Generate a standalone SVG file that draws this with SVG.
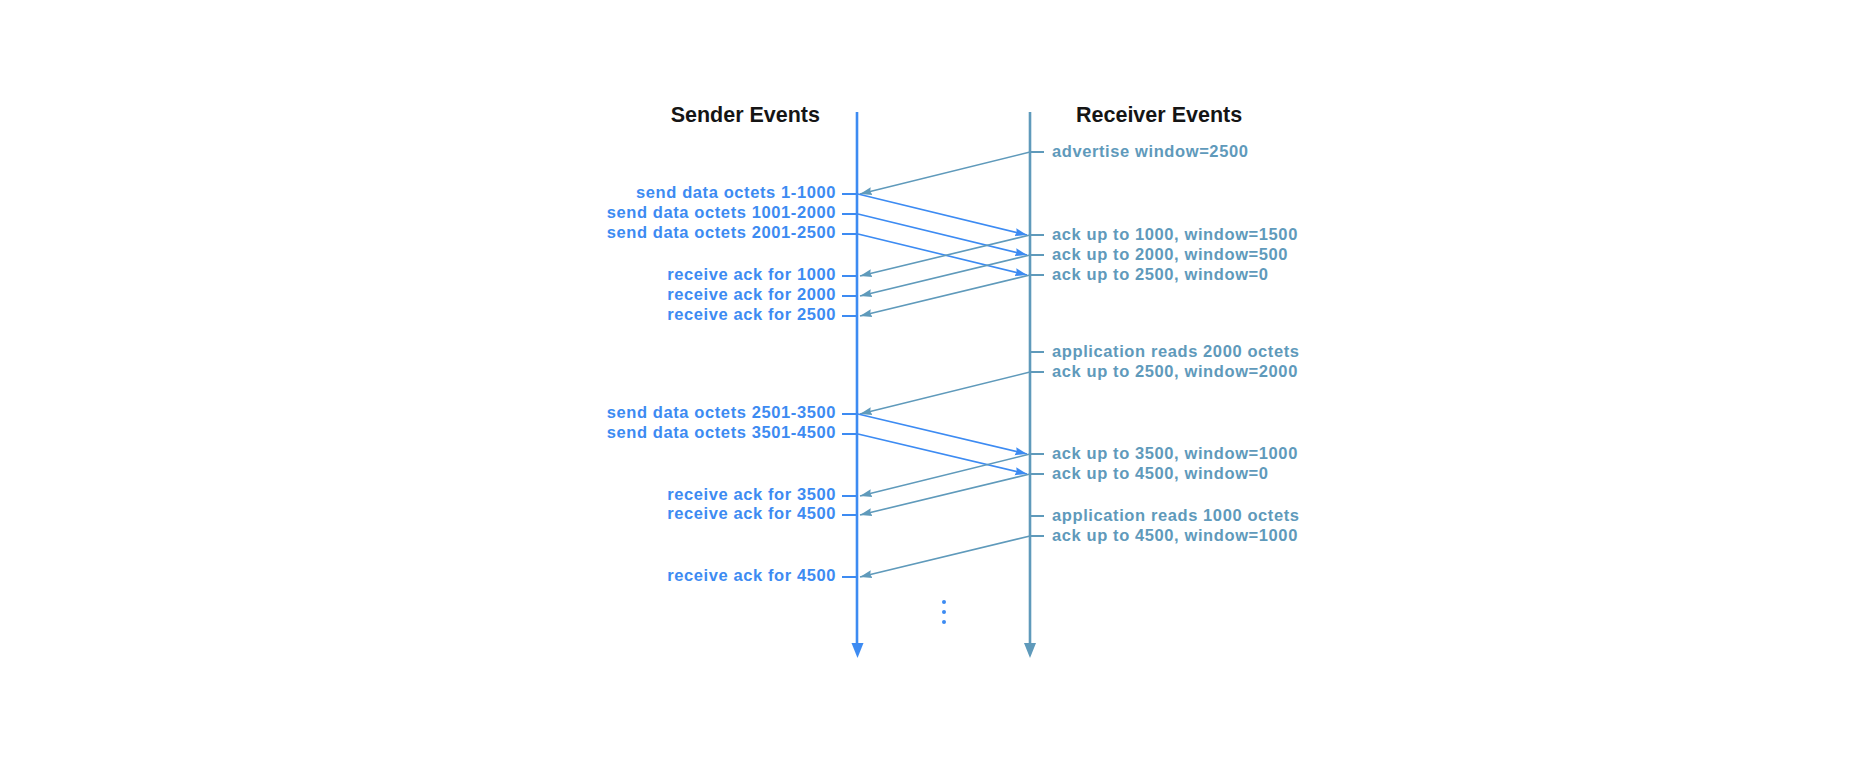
<svg xmlns="http://www.w3.org/2000/svg" width="1866" height="772" viewBox="0 0 1866 772">
<style>
.hdr{font-family:"Liberation Sans",Arial,sans-serif;font-weight:bold;font-size:21.5px;fill:#151515}
.s{font-family:"Liberation Sans",Arial,sans-serif;font-weight:bold;font-size:16.5px;letter-spacing:0.6px;fill:#3d8bf2;text-anchor:end}
.r{font-family:"Liberation Sans",Arial,sans-serif;font-weight:bold;font-size:16.5px;letter-spacing:0.6px;fill:#5f9abb}
.st{stroke:#3d8bf2;stroke-width:2}
.rt{stroke:#5f9abb;stroke-width:2}
.bl{stroke:#3d8bf2;stroke-width:1.6;fill:none;marker-end:url(#ab)}
.tl{stroke:#5f9abb;stroke-width:1.6;fill:none;marker-end:url(#at)}
</style>
<defs>
<marker id="ab" markerUnits="userSpaceOnUse" markerWidth="14" markerHeight="10" refX="12" refY="4.5" orient="auto"><path d="M0,0.5 L12,4.5 L0,8.5 L1.5,4.5 Z" fill="#3d8bf2"/></marker>
<marker id="at" markerUnits="userSpaceOnUse" markerWidth="14" markerHeight="10" refX="12" refY="4.5" orient="auto"><path d="M0,0.5 L12,4.5 L0,8.5 L1.5,4.5 Z" fill="#5f9abb"/></marker>
</defs>
<rect width="1866" height="772" fill="#ffffff"/>
<g id="sender-timeline">
<text class="hdr" x="820" y="122" text-anchor="end">Sender Events</text>
<line x1="857" y1="112" x2="857" y2="645" stroke="#3d8bf2" stroke-width="2.6"/>
<path d="M851.5,643 L863.5,643 L857.5,658 Z" fill="#3d8bf2"/>
</g>
<g id="receiver-timeline">
<text class="hdr" x="1076" y="122">Receiver Events</text>
<line x1="1030" y1="112" x2="1030" y2="645" stroke="#5f9abb" stroke-width="2.6"/>
<path d="M1024,643 L1036,643 L1030,658 Z" fill="#5f9abb"/>
</g>
<g id="sender-events">
<g id="s1"><line class="st" x1="842" y1="194" x2="858" y2="194"/><text class="s" x="836" y="198">send data octets 1-1000</text></g>
<g id="s2"><line class="st" x1="842" y1="214" x2="858" y2="214"/><text class="s" x="836" y="218">send data octets 1001-2000</text></g>
<g id="s3"><line class="st" x1="842" y1="234" x2="858" y2="234"/><text class="s" x="836" y="238">send data octets 2001-2500</text></g>
<g id="s4"><line class="st" x1="842" y1="276" x2="858" y2="276"/><text class="s" x="836" y="280">receive ack for 1000</text></g>
<g id="s5"><line class="st" x1="842" y1="296" x2="858" y2="296"/><text class="s" x="836" y="300">receive ack for 2000</text></g>
<g id="s6"><line class="st" x1="842" y1="316" x2="858" y2="316"/><text class="s" x="836" y="320">receive ack for 2500</text></g>
<g id="s7"><line class="st" x1="842" y1="414" x2="858" y2="414"/><text class="s" x="836" y="418">send data octets 2501-3500</text></g>
<g id="s8"><line class="st" x1="842" y1="434" x2="858" y2="434"/><text class="s" x="836" y="438">send data octets 3501-4500</text></g>
<g id="s9"><line class="st" x1="842" y1="496" x2="858" y2="496"/><text class="s" x="836" y="500">receive ack for 3500</text></g>
<g id="s10"><line class="st" x1="842" y1="515" x2="858" y2="515"/><text class="s" x="836" y="519">receive ack for 4500</text></g>
<g id="s11"><line class="st" x1="842" y1="577" x2="858" y2="577"/><text class="s" x="836" y="581">receive ack for 4500</text></g>
</g>
<g id="receiver-events">
<g id="r1"><line class="rt" x1="1030" y1="152" x2="1044" y2="152"/><text class="r" x="1052" y="156.5">advertise window=2500</text></g>
<g id="r2"><line class="rt" x1="1030" y1="235" x2="1044" y2="235"/><text class="r" x="1052" y="239.5">ack up to 1000, window=1500</text></g>
<g id="r3"><line class="rt" x1="1030" y1="255" x2="1044" y2="255"/><text class="r" x="1052" y="259.5">ack up to 2000, window=500</text></g>
<g id="r4"><line class="rt" x1="1030" y1="275" x2="1044" y2="275"/><text class="r" x="1052" y="279.5">ack up to 2500, window=0</text></g>
<g id="r5"><line class="rt" x1="1030" y1="352" x2="1044" y2="352"/><text class="r" x="1052" y="356.5">application reads 2000 octets</text></g>
<g id="r6"><line class="rt" x1="1030" y1="372" x2="1044" y2="372"/><text class="r" x="1052" y="376.5">ack up to 2500, window=2000</text></g>
<g id="r7"><line class="rt" x1="1030" y1="454" x2="1044" y2="454"/><text class="r" x="1052" y="458.5">ack up to 3500, window=1000</text></g>
<g id="r8"><line class="rt" x1="1030" y1="474" x2="1044" y2="474"/><text class="r" x="1052" y="478.5">ack up to 4500, window=0</text></g>
<g id="r9"><line class="rt" x1="1030" y1="516" x2="1044" y2="516"/><text class="r" x="1052" y="520.5">application reads 1000 octets</text></g>
<g id="r10"><line class="rt" x1="1030" y1="536" x2="1044" y2="536"/><text class="r" x="1052" y="540.5">ack up to 4500, window=1000</text></g>
</g>
<g id="connectors">
<line class="tl" x1="1030" y1="152" x2="860" y2="194"/>
<line class="bl" x1="858" y1="194" x2="1027" y2="235"/>
<line class="bl" x1="858" y1="214" x2="1027" y2="255"/>
<line class="bl" x1="858" y1="234" x2="1027" y2="275"/>
<line class="tl" x1="1030" y1="235" x2="860" y2="276"/>
<line class="tl" x1="1030" y1="255" x2="860" y2="296"/>
<line class="tl" x1="1030" y1="275" x2="860" y2="316"/>
<line class="tl" x1="1030" y1="372" x2="860" y2="414"/>
<line class="bl" x1="858" y1="414" x2="1027" y2="454"/>
<line class="bl" x1="858" y1="434" x2="1027" y2="474"/>
<line class="tl" x1="1030" y1="454" x2="860" y2="496"/>
<line class="tl" x1="1030" y1="474" x2="860" y2="515"/>
<line class="tl" x1="1030" y1="536" x2="860" y2="577"/>
</g>
<g id="continuation" fill="#3d8bf2">
<circle cx="944" cy="602" r="2"/>
<circle cx="944" cy="612" r="2"/>
<circle cx="944" cy="622" r="2"/>
</g>
</svg>
